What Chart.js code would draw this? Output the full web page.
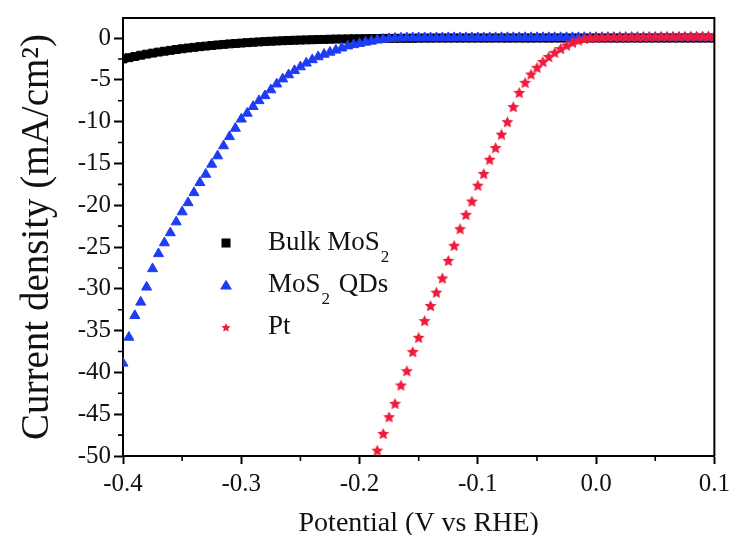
<!DOCTYPE html>
<html>
<head>
<meta charset="utf-8">
<script src="https://cdn.jsdelivr.net/npm/chart.js@4.4.1/dist/chart.umd.min.js"></script>
<style>
  html, body { margin: 0; padding: 0; background: #fff; }
</style>
</head>
<body>
<canvas id="lsvChart" width="735" height="535"></canvas>
<script>
const serif = '"Liberation Serif", "Times New Roman", serif'

// Polarization curves, potential in V vs RHE, current density in mA/cm2
const potential = [
  -0.400, -0.395, -0.390, -0.385, -0.380, -0.375, -0.370, -0.365, -0.360, -0.355,
  -0.350, -0.345, -0.340, -0.335, -0.330, -0.325, -0.320, -0.315, -0.310, -0.305,
  -0.300, -0.295, -0.290, -0.285, -0.280, -0.275, -0.270, -0.265, -0.260, -0.255,
  -0.250, -0.245, -0.240, -0.235, -0.230, -0.225, -0.220, -0.215, -0.210, -0.205,
  -0.200, -0.195, -0.190, -0.185, -0.180, -0.175, -0.170, -0.165, -0.160, -0.155,
  -0.150, -0.145, -0.140, -0.135, -0.130, -0.125, -0.120, -0.115, -0.110, -0.105,
  -0.100, -0.095, -0.090, -0.085, -0.080, -0.075, -0.070, -0.065, -0.060, -0.055,
  -0.050, -0.045, -0.040, -0.035, -0.030, -0.025, -0.020, -0.015, -0.010, -0.005,
  0.000, 0.005, 0.010, 0.015, 0.020, 0.025, 0.030, 0.035, 0.040, 0.045,
  0.050, 0.055, 0.060, 0.065, 0.070, 0.075, 0.080, 0.085, 0.090, 0.095,
  0.100
]

const bulkMoS2 = [
  -2.50, -2.35, -2.20, -2.05, -1.92, -1.80, -1.68, -1.57, -1.47, -1.37,
  -1.28, -1.19, -1.11, -1.03, -0.96, -0.89, -0.82, -0.76, -0.70, -0.65,
  -0.60, -0.55, -0.50, -0.46, -0.42, -0.38, -0.35, -0.32, -0.29, -0.26,
  -0.24, -0.22, -0.20, -0.18, -0.16, -0.14, -0.12, -0.11, -0.10, -0.09,
  -0.08, -0.07, -0.06, -0.05, -0.04, -0.04, -0.03, -0.03, -0.02, -0.02,
  -0.01, -0.01, -0.01, 0, 0, 0, 0, 0, 0, 0,
  0, 0, 0, 0, 0, 0, 0, 0, 0, 0,
  0, 0, 0, 0, 0, 0, 0, 0, 0, 0,
  0, 0, 0, 0, 0, 0, 0, 0, 0, 0,
  0, 0, 0, 0, 0, 0, 0, 0, 0, 0,
  0
]

const mos2QDs = [
  -38.9, -35.8, -33.2, -31.6, -29.8, -27.6, -25.8, -24.5, -23.3, -22.0,
  -20.8, -19.7, -18.5, -17.3, -16.3, -15.1, -14.1, -12.9, -11.8, -10.8,
  -9.7, -9.0, -8.2, -7.5, -6.9, -6.2, -5.5, -4.9, -4.4, -3.9,
  -3.45, -3.0, -2.6, -2.25, -1.95, -1.7, -1.45, -1.2, -0.95, -0.8,
  -0.65, -0.5, -0.38, -0.25, -0.15, -0.08, -0.03, 0, 0.02, 0.03,
  0.03, 0.03, 0.03, 0.03, 0.03, 0.04, 0.04, 0.04, 0.04, 0.04,
  0.04, 0.04, 0.04, 0.04, 0.05, 0.05, 0.05, 0.05, 0.05, 0.05,
  0.05, 0.05, 0.05, 0.05, 0.05, 0.05, 0.05, 0.05, 0.05, 0.05,
  0.05, 0.05, 0.05, 0.05, 0.05, 0.05, 0.05, 0.05, 0.05, 0.05,
  0.05, 0.05, 0.05, 0.05, 0.05, 0.05, 0.05, 0.05, 0.05, 0.05,
  0.05
]

const platinum = [
  null, null, null, null, null, null, null, null, null, null,
  null, null, null, null, null, null, null, null, null, null,
  null, null, null, null, null, null, null, null, null, null,
  null, null, null, null, null, null, null, null, null, null,
  null, null, null, -49.3, -47.3, -45.3, -43.7, -41.5, -39.8, -37.5,
  -35.8, -33.8, -32.0, -30.4, -28.7, -26.6, -24.8, -22.8, -21.1, -19.5,
  -17.6, -16.2, -14.5, -13.1, -11.5, -10.0, -8.2, -6.5, -5.3, -4.3,
  -3.5, -2.8, -2.2, -1.7, -1.25, -0.85, -0.5, -0.25, -0.05, 0.05,
  0.10, 0.12, 0.14, 0.15, 0.16, 0.17, 0.18, 0.18, 0.19, 0.20,
  0.20, 0.21, 0.21, 0.22, 0.22, 0.22, 0.23, 0.23, 0.23, 0.24,
  0.24
]

const seriesNames = ['Bulk MoS₂', 'MoS₂ QDs', 'Pt']
const seriesColors = ['#000000', '#1f3cf5', '#ee1b3c']

const xTicks = [-0.4, -0.3, -0.2, -0.1, 0.0, 0.1]
const xTickLabels = ['-0.4', '-0.3', '-0.2', '-0.1', '0.0', '0.1']
const xMinorTicks = [-0.35, -0.25, -0.15, -0.05, 0.05]
const yTicks = [-50, -45, -40, -35, -30, -25, -20, -15, -10, -5, 0]
const yTickLabels = ['-50', '-45', '-40', '-35', '-30', '-25', '-20', '-15', '-10', '-5', '0']
const yMinorTicks = [-47.5, -42.5, -37.5, -32.5, -27.5, -22.5, -17.5, -12.5, -7.5, -2.5]

function toPoints(values) {
  const pts = []
  for (let i = 0; i < potential.length; i++) {
    if (values[i] !== null) {
      pts.push({x: potential[i], y: values[i]})
    }
  }
  return pts
}

// filled five-point star, used as the Pt marker
function starImage(size, color) {
  const c = document.createElement('canvas')
  c.width = size
  c.height = size
  const g = c.getContext('2d')
  const r = size / 2
  g.beginPath()
  for (let k = 0; k < 10; k++) {
    const rad = k % 2 ? r * 0.45 : r - 0.2
    const ang = -Math.PI / 2 + k * Math.PI / 5
    g.lineTo(r + rad * Math.cos(ang), r + 0.7 + rad * Math.sin(ang))
  }
  g.closePath()
  g.fillStyle = color
  g.fill()
  return c
}

const starMarker = starImage(13, seriesColors[2])
const starLegend = starImage(10, seriesColors[2])

// top and right frame lines plus the short minor ticks
const framePlugin = {
  id: 'frame',
  afterDraw(chart) {
    const {ctx, chartArea: a, scales} = chart
    ctx.save()
    ctx.strokeStyle = '#000'
    ctx.lineWidth = 2
    ctx.beginPath()
    ctx.moveTo(a.left, a.top)
    ctx.lineTo(a.right, a.top)
    ctx.lineTo(a.right, a.bottom)
    ctx.stroke()

    ctx.lineWidth = 1.6
    ctx.beginPath()
    xMinorTicks.forEach(v => {
      const px = scales.x.getPixelForValue(v)
      ctx.moveTo(px, a.bottom)
      ctx.lineTo(px, a.bottom + 5)
    })
    yMinorTicks.forEach(v => {
      const py = scales.y.getPixelForValue(v)
      ctx.moveTo(a.left, py)
      ctx.lineTo(a.left - 5, py)
    })
    ctx.stroke()
    ctx.restore()
  }
}

// legend inside the plot, with a real subscript for the "2"
const legendPlugin = {
  id: 'insetLegend',
  afterDraw(chart) {
    const {ctx, chartArea: a} = chart
    const mx = a.left + 103
    const tx = a.left + 145
    ctx.save()
    ctx.textBaseline = 'middle'
    seriesNames.forEach((name, i) => {
      const y = a.top + 225 + i * 42
      if (i === 0) {
        ctx.fillStyle = seriesColors[0]
        ctx.fillRect(mx - 4.5, y - 4.5, 9, 9)
      } else if (i === 1) {
        ctx.fillStyle = seriesColors[1]
        ctx.beginPath()
        ctx.moveTo(mx, y - 5.5)
        ctx.lineTo(mx + 6, y + 4.5)
        ctx.lineTo(mx - 6, y + 4.5)
        ctx.closePath()
        ctx.fill()
      } else {
        ctx.drawImage(starLegend, mx - 5, y - 5)
      }
      ctx.fillStyle = '#111'
      let x = tx
      const parts = name.split('₂')
      parts.forEach((part, j) => {
        ctx.font = `27px ${serif}`
        ctx.fillText(part, x, y)
        x += ctx.measureText(part).width
        if (j < parts.length - 1) {
          ctx.font = `17px ${serif}`
          ctx.fillText('2', x + 1, y + 15)
          x += ctx.measureText('2').width + 3
        }
      })
    })
    ctx.restore()
  }
}

const datasets = [
  {
    label: seriesNames[0],
    data: toPoints(bulkMoS2),
    showLine: true,
    borderWidth: 6,
    pointStyle: 'rect',
    pointRadius: 5.6,
    pointBorderWidth: 1,
    backgroundColor: seriesColors[0],
    borderColor: seriesColors[0],
    order: 3
  },
  {
    label: seriesNames[1],
    data: toPoints(mos2QDs),
    pointStyle: 'triangle',
    pointRadius: 5.8,
    pointBorderWidth: 1,
    backgroundColor: seriesColors[1],
    borderColor: seriesColors[1],
    order: 2
  },
  {
    label: seriesNames[2],
    data: toPoints(platinum),
    pointStyle: starMarker,
    pointRadius: 6,
    backgroundColor: seriesColors[2],
    borderColor: seriesColors[2],
    order: 1
  }
]

new Chart(document.getElementById('lsvChart'), {
  type: 'scatter',
  data: {datasets: datasets},
  plugins: [framePlugin, legendPlugin],
  options: {
    responsive: false,
    animation: false,
    events: [],
    layout: {padding: {top: 16, right: 18, left: 0, bottom: 0}},
    plugins: {
      legend: {display: false},
      tooltip: {enabled: false}
    },
    scales: {
      x: {
        type: 'linear',
        min: -0.4,
        max: 0.1,
        afterBuildTicks: s => { s.ticks = xTicks.map(v => ({value: v})) },
        afterFit: s => { s.height = 79 },
        ticks: {
          callback: (v, i) => xTickLabels[i],
          color: '#111',
          font: {family: serif, size: 25},
          padding: 5,
          maxRotation: 0,
          autoSkip: false
        },
        grid: {drawOnChartArea: false, tickLength: 8, tickWidth: 2, tickColor: '#000'},
        border: {color: '#000', width: 2},
        title: {
          display: true,
          text: 'Potential (V vs RHE)',
          color: '#111',
          font: {family: serif, size: 28, lineHeight: 0.8},
          padding: {top: 0, bottom: 0}
        }
      },
      y: {
        type: 'linear',
        min: -50,
        max: 2.4,
        afterBuildTicks: s => { s.ticks = yTicks.map(v => ({value: v})) },
        afterFit: s => { s.width = 123 },
        ticks: {
          callback: (v, i) => yTickLabels[i],
          color: '#111',
          font: {family: serif, size: 25},
          padding: 3,
          autoSkip: false
        },
        grid: {drawOnChartArea: false, tickLength: 9, tickWidth: 2, tickColor: '#000'},
        border: {color: '#000', width: 2},
        title: {
          display: true,
          text: 'Current density (mA/cm²)',
          color: '#111',
          font: {family: serif, size: 39},
          padding: {top: 14, bottom: 0}
        }
      }
    }
  }
})
</script>
</body>
</html>
